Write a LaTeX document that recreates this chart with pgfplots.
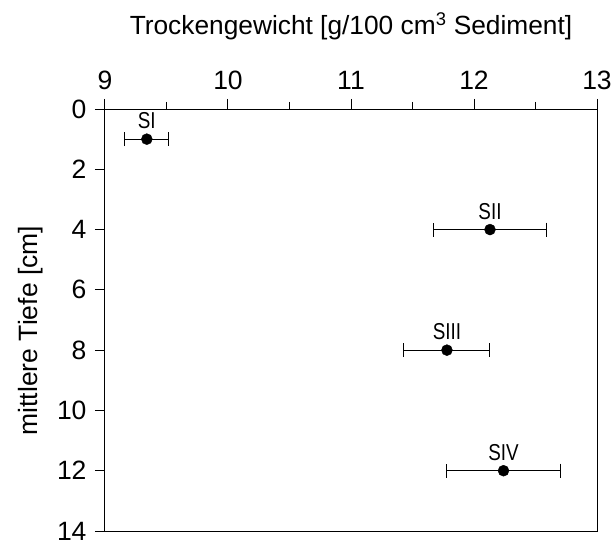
\documentclass[border=0pt]{standalone}
\usepackage{pgfplots}
\pgfplotsset{compat=1.18}
\usepackage{fontspec}
\setmainfont{Liberation Sans}
\begin{document}
\begin{tikzpicture}
\begin{axis}[
  name=ax,
  scale only axis,
  width=492bp, height=422bp,
  xmin=9, xmax=13, ymin=0, ymax=14,
  y dir=reverse,
  xtick={9,10,11,12,13},
  ytick={0,2,4,6,8,10,12,14},
  minor x tick num=1,
  xtick pos=right, xticklabel pos=right,
  ytick pos=left,
  tick align=outside,
  major tick length=10bp,
  minor tick length=7bp,
  every tick/.style={black, line width=1bp},
  axis line style={line width=1bp},
  font=\fontsize{27bp}{32bp}\selectfont,
  /pgf/number format/assume math mode=true,
  xticklabel style={font=\fontsize{26.5bp}{32bp}\selectfont, yshift=6bp},
  yticklabel style={font=\fontsize{26.5bp}{32bp}\selectfont, xshift=-5bp},
  xlabel={Trockengewicht [g/100 cm\textsuperscript{3} Sediment]},
  ylabel={mittlere Tiefe [cm]},
  xlabel style={at={(axis description cs:0.5,1.1754)}, anchor=base, font=\fontsize{26.3bp}{32bp}\selectfont},
  ylabel style={at={(axis description cs:-0.1382,0.475)}, anchor=base, rotate=0, font=\fontsize{26.5bp}{32bp}\selectfont},
  clip=false,
  nodes near coords,
  point meta=explicit symbolic,
  every node near coord/.style={anchor=south, inner sep=0pt, yshift=10bp, font=\fontsize{23bp}{27bp}\selectfont, xscale=0.82},
]
\addplot[only marks, mark=*, mark size=5.5bp, black,
  error bars/.cd, x dir=both, x explicit,
  error bar style={line width=1bp, black},
  error mark=|, error mark options={mark size=7bp, line width=1bp, black}]
  table[x=x, y=y, x error=e, meta=lab] {
x y e lab
9.34 1 0.18 SI
12.13 4 0.46 SII
11.78 8 0.35 SIII
12.24 12 0.46 SIV
};
\end{axis}
\pgfresetboundingbox
\path ([xshift=-105bp,yshift=-15bp]ax.south west) rectangle ([xshift=16bp,yshift=109bp]ax.north east);
\end{tikzpicture}
\end{document}
